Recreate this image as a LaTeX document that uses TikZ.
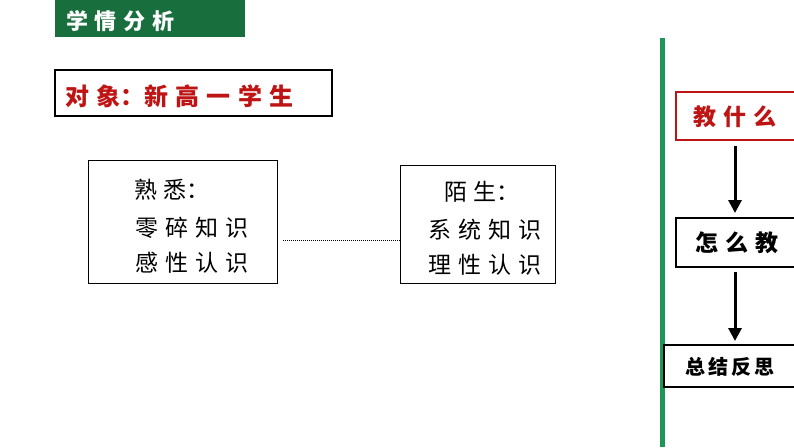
\documentclass[tikz,border=0pt]{standalone}
\usepackage{fontspec}
\usetikzlibrary{arrows.meta}
\setmainfont{Noto Sans CJK SC}
\definecolor{hdr}{RGB}{24,110,60}
\definecolor{vline}{RGB}{30,150,90}
\definecolor{dred}{RGB}{190,20,20}
\newcommand{\csp}{\hspace{0.3em}}
\begin{document}
\begin{tikzpicture}[x=1pt,y=-1pt,
  bx/.style={draw=black,line width=1.5pt,fill=white},
  tx/.style={font=\fontsize{23}{23}\selectfont,inner sep=0pt},
  arr/.style={-{Triangle[width=13pt,length=13pt]},line width=3pt}]
\useasboundingbox (0,0) rectangle (794,447);
\fill[hdr] (55,0) rectangle (245,37);
\node[tx,text=white,font=\fontsize{22}{22}\selectfont\bfseries,anchor=west] (hdr) at (66,21) {学\csp 情\csp 分\csp 析};
\draw[bx] (55,70) rectangle (332,116);
\node[tx,text=dred,font=\fontsize{24}{24}\selectfont\bfseries,anchor=west] (obj) at (65,96) {对\csp 象：新\csp 高\csp 一\csp 学\csp 生};
\draw[bx,line width=1pt] (88,160) rectangle (277,283);
\node[tx] (l1) at (172,190) {熟\csp 悉：};
\node[tx] (l2) at (192,228) {零\csp 碎\csp 知\csp 识};
\node[tx] (l3) at (192,263) {感\csp 性\csp 认\csp 识};
\draw[bx,line width=1pt] (400,165) rectangle (555,283);
\node[tx] (r1) at (482,192) {陌\csp 生：};
\node[tx] (r2) at (485,230) {系\csp 统\csp 知\csp 识};
\node[tx] (r3) at (485,265) {理\csp 性\csp 认\csp 识};
\coordinate (da) at (283,240); \coordinate (db) at (400,240);
\draw[dash pattern=on 1pt off 1pt,line width=0.6pt] (da) -- (db);
\draw[vline,line width=5pt] (662,38) -- (662,447);
\draw[bx,draw=dred] (676,92) rectangle (796,140);
\node[tx,text=dred,font=\fontsize{23}{23}\selectfont\bfseries] (a) at (735,117) {教\csp 什\csp 么};
\draw[bx] (676,218) rectangle (796,267);
\node[tx,font=\fontsize{23}{23}\selectfont\bfseries] (b) at (737,243) {怎\csp 么\csp 教};
\draw[bx] (664,345) rectangle (796,387);
\node[tx,font=\fontsize{20}{20}\selectfont\bfseries] (c) at (730,367) {总\hspace{0.15em}结\hspace{0.15em}反\hspace{0.15em}思};
\coordinate (a1) at (735,146); \coordinate (a2) at (735,213);
\coordinate (b1) at (735,272); \coordinate (b2) at (735,341);
\draw[arr] (a1) -- (a2);
\draw[arr] (b1) -- (b2);
\end{tikzpicture}
\end{document}
